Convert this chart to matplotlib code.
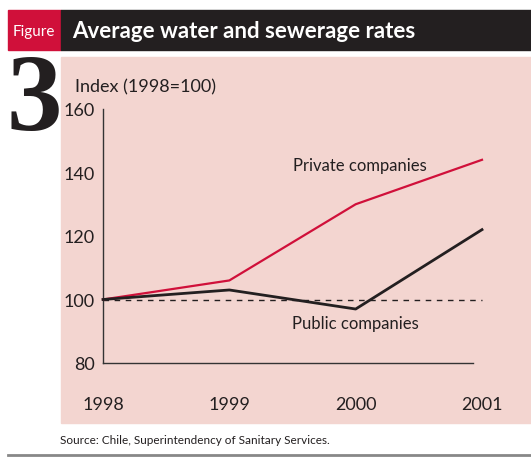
import matplotlib
matplotlib.use("Agg")
import matplotlib.pyplot as plt
from matplotlib.patches import Rectangle

anos = [1998, 1999, 2000, 2001]
privadas = [100, 106, 130, 144]
publicas = [100, 103, 97, 122]
yticks = [80, 100, 120, 140, 160]

W, H = 531, 460
ROSA = '#f3d5d0'
VERMELHO = '#d0103a'
PRETO = '#231f20'
FONTE = ['Lato', 'DejaVu Sans']

fig = plt.figure(figsize=(W / 100, H / 100), dpi=100)

def caixa(x0, y0, x1, y1, cor):
    # coordenadas em pixels (origem no topo)
    fig.patches.append(Rectangle((x0 / W, 1 - y1 / H), (x1 - x0) / W, (y1 - y0) / H,
                                 transform=fig.transFigure, color=cor, zorder=-5))

caixa(8, 11, 61, 51, VERMELHO)
caixa(61, 11, 531, 51, PRETO)
caixa(61, 58, 531, 424, ROSA)

fig.text(34 / W, 1 - 32 / H, 'Figure', color='white', fontsize=11, family=FONTE,
         ha='center', va='center')
fig.text(72 / W, 1 - 32 / H, 'Average water and sewerage rates', color='white',
         fontsize=16, fontweight='bold', family=FONTE, ha='left', va='center')
fig.text(34 / W, 1 - 130 / H, '3', fontsize=80, family=['Liberation Serif', 'DejaVu Serif'],
         fontweight='bold', color=PRETO, ha='center', va='baseline')
fig.text(75 / W, 1 - 87 / H, 'Index (1998=100)', fontsize=13, family=FONTE, color=PRETO,
         ha='left', va='center')
fig.text(60 / W, 1 - 441 / H, 'Source: Chile, Superintendency of Sanitary Services.',
         fontsize=8.5, family=FONTE, color=PRETO, ha='left', va='center')
fig.add_artist(plt.Line2D([8 / W, 1], [1 - 456 / H] * 2, color='#888888', lw=2,
                          transform=fig.transFigure))

ax = fig.add_axes([103 / W, 1 - 364 / H, 379 / W, 254 / H])
ax.set_zorder(2)
ax.set_facecolor('none')
ax.plot(anos, privadas, color=VERMELHO, lw=1.6, clip_on=False, zorder=3)
ax.plot(anos, publicas, color=PRETO, lw=2, clip_on=False, zorder=4)
ax.plot([anos[0], anos[-1]], [100, 100], color=PRETO, lw=1, ls=(0, (4, 4)), clip_on=False)

ax.set_xlim(1998, 2001)
ax.set_ylim(80, 160)
ax.spines['top'].set_visible(False)
ax.spines['right'].set_visible(False)
ax.spines['bottom'].set_bounds(1998, 1998 + 370 / 379 * 3)
for s in ['left', 'bottom']:
    ax.spines[s].set_color('#333333')
    ax.spines[s].set_linewidth(1)

ax.set_yticks(yticks)
ax.set_yticklabels([str(v) for v in yticks], family=FONTE, fontsize=13, color=PRETO)
ax.set_xticks(anos)
ax.set_xticklabels([str(a) for a in anos], family=FONTE, fontsize=13, color=PRETO)
ax.tick_params(axis='y', length=0, pad=6)
ax.tick_params(axis='x', length=0, pad=24)

ax.text(2000.03, 142.5, 'Private companies', family=FONTE, fontsize=12, color=PRETO,
        ha='center', va='center')
ax.text(2000.0, 92.5, 'Public companies', family=FONTE, fontsize=12, color=PRETO,
        ha='center', va='center')

fig.savefig('out.png', dpi=100)
